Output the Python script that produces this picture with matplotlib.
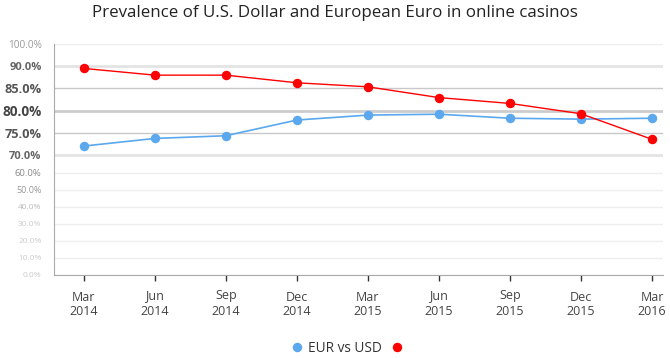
import numpy as np
import matplotlib.pyplot as plt
from matplotlib.lines import Line2D

plt.rcParams['font.family'] = ['Open Sans', 'DejaVu Sans']

# данные
months = ['Mar', 'Jun', 'Sep', 'Dec', 'Mar', 'Jun', 'Sep', 'Dec', 'Mar']
years = ['2014', '2014', '2014', '2014', '2015', '2015', '2015', '2015', '2016']
eur = [72.1, 73.8, 74.4, 77.9, 79.0, 79.2, 78.3, 78.1, 78.3]
usd = [89.4, 87.9, 87.9, 86.2, 85.3, 82.9, 81.6, 79.3, 73.6]

y_ticks = [0, 10, 20, 30, 40, 50, 60, 70, 75, 80, 85, 90, 100]
tick_sizes = [6, 6, 6, 6, 6, 6.5, 6.8, 8, 9.2, 9.8, 9.2, 8, 7.2]
tick_colors = ['#cccccc', '#cccccc', '#cccccc', '#cccccc', '#bbbbbb', '#999999', '#888888',
               '#666666', '#555555', '#444444', '#555555', '#666666', '#999999']
tick_bold = [False] * 7 + [True] * 5 + [False]

# нелинейная шкала: 70-90% растянута
knots_v = [0, 70, 90, 100]
knots_p = [0, 119.5, 209.3, 231]


def fwd(v):
    return np.interp(v, knots_v, knots_p)


def inv(p):
    return np.interp(p, knots_p, knots_v)


fig = plt.figure(figsize=(6.7, 3.58), dpi=100)
ax = fig.add_axes([0.0806, 0.232, 0.909, 0.645])
ax.set_yscale('function', functions=(fwd, inv))
ax.set_ylim(0, 100)
x = np.arange(len(months))
ax.set_xlim(-0.42, len(months) - 1 + 0.155)

ax.plot(x, eur, color='#5ba8ee', lw=1.2, marker='o', ms=5.8, zorder=3)
ax.plot(x, usd, color='#ff0000', lw=1.0, marker='o', ms=5.8, zorder=4)

ax.set_yticks(y_ticks)
ax.set_yticklabels([f'{t:.1f}%' for t in y_ticks])
for lab, s, c, b in zip(ax.get_yticklabels(), tick_sizes, tick_colors, tick_bold):
    lab.set_fontsize(s)
    lab.set_color(c)
    lab.set_fontweight('bold' if b else 'normal')
ax.tick_params(axis='y', length=0, pad=9)

ax.grid(axis='y')
for t, gl in zip(y_ticks, ax.get_ygridlines()):
    if t == 80:
        gl.set(color='#cccccc', lw=2)
    elif t in (85, 75):
        gl.set(color='#c8c8c8', lw=1)
    elif t in (90, 70):
        gl.set(color='#e4e4e4', lw=2)
    else:
        gl.set(color='#eeeeee', lw=1)
ax.set_axisbelow(True)

# месяцы - основные подписи, годы - второстепенные на тех же позициях
ax.xaxis.remove_overlapping_locs = False
ax.set_xticks(x)
ax.set_xticklabels(months, fontsize=9, color='#444444', va='baseline')
ax.set_xticks(x, minor=True)
ax.set_xticklabels(years, minor=True, fontsize=9, color='#444444', va='baseline')
ax.tick_params(axis='x', which='major', length=4.5, width=1, color='#333333', pad=14)
ax.tick_params(axis='x', which='minor', length=0, pad=28.8)

# подписи с нижними выносными элементами (J, p) рисуются ниже - поднимаем их
fig.canvas.draw()
renderer = fig.canvas.get_renderer()
ax_h = ax.get_window_extent().height
for lab in ax.get_xticklabels():
    _, _, d = renderer.get_text_width_height_descent(lab.get_text(), lab.get_fontproperties(), ismath=False)
    lab.set_y(0.5 * d / ax_h)

for s in ('top', 'right'):
    ax.spines[s].set_visible(False)
ax.spines['left'].set_color('#aaaaaa')
ax.spines['bottom'].set_color('#aaaaaa')

fig.text(0.5, 0.965, 'Prevalence of U.S. Dollar and European Euro in online casinos',
         ha='center', va='center', fontsize=12.2, color='#222222')

handles = [Line2D([], [], ls='none', marker='o', color='#5ba8ee', ms=5.8),
           Line2D([], [], ls='none', marker='o', color='#ff0000', ms=5.8)]
fig.legend(handles, ['EUR vs USD', ''], loc='center', bbox_to_anchor=(0.521, 0.027),
           ncol=2, frameon=False, fontsize=9.8, labelcolor='#333333',
           handletextpad=0.3, columnspacing=0.6, handlelength=1)

fig.savefig('out.png', dpi=100)
